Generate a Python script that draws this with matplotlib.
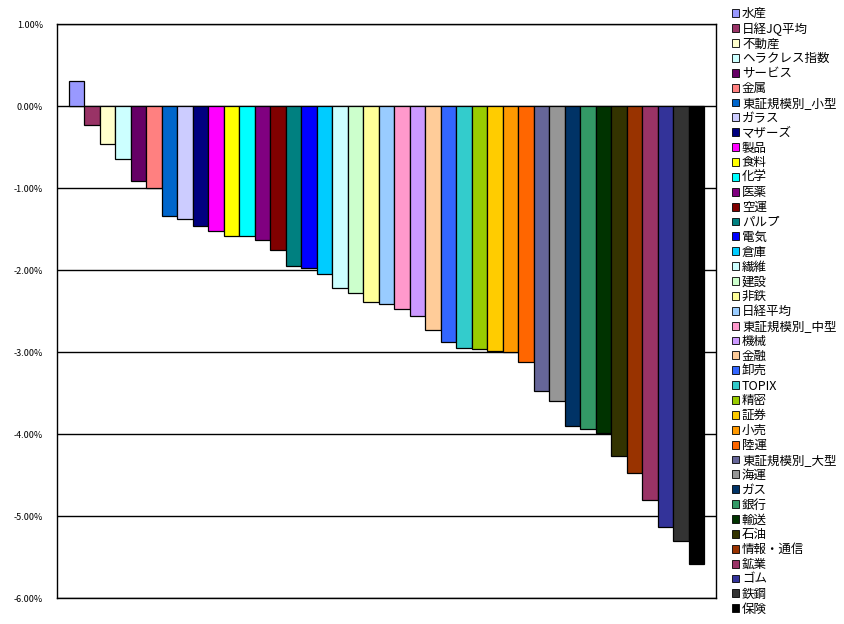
import matplotlib
matplotlib.use("Agg")
import matplotlib.pyplot as plt
from matplotlib.patches import Patch
from matplotlib.ticker import FuncFormatter, MultipleLocator

plt.rcParams["font.family"] = ["Noto Sans CJK JP", "DejaVu Sans"]

# sector / index returns (%)
names = [
    "水産", "日経JQ平均", "不動産", "ヘラクレス指数", "サービス", "金属",
    "東証規模別_小型", "ガラス", "マザーズ", "製品", "食料", "化学", "医薬",
    "空運", "パルプ", "電気", "倉庫", "繊維", "建設", "非鉄", "日経平均",
    "東証規模別_中型", "機械", "金融", "卸売", "TOPIX", "精密", "証券",
    "小売", "陸運", "東証規模別_大型", "海運", "ガス", "銀行", "輸送",
    "石油", "情報・通信", "鉱業", "ゴム", "鉄鋼", "保険",
]
values = [
    0.30, -0.23, -0.46, -0.65, -0.91, -1.00,
    -1.34, -1.38, -1.46, -1.52, -1.58, -1.59, -1.63,
    -1.76, -1.95, -1.98, -2.05, -2.22, -2.28, -2.39, -2.41,
    -2.48, -2.56, -2.73, -2.88, -2.95, -2.96, -2.99,
    -3.00, -3.12, -3.48, -3.60, -3.90, -3.94, -3.99,
    -4.27, -4.48, -4.80, -5.13, -5.30, -5.59,
]
colors = [
    "#9999FF", "#993366", "#FFFFCC", "#CCFFFF", "#660066", "#FF8080",
    "#0066CC", "#CCCCFF", "#000080", "#FF00FF", "#FFFF00", "#00FFFF", "#800080",
    "#800000", "#008080", "#0000FF", "#00CCFF", "#CCFFFF", "#CCFFCC", "#FFFF99", "#99CCFF",
    "#FF99CC", "#CC99FF", "#FFCC99", "#3366FF", "#33CCCC", "#99CC00", "#FFCC00",
    "#FF9900", "#FF6600", "#666699", "#969696", "#003366", "#339966", "#003300",
    "#333300", "#993300", "#993366", "#333399", "#333333", "#000000",
]

fig = plt.figure(figsize=(8.45, 6.24), dpi=100)
ax = fig.add_axes([57 / 845, 26 / 624, 659 / 845, 574 / 624])

x = range(len(values))
ax.bar(x, values, width=1.0, color=colors, edgecolor="black", linewidth=0.9, zorder=3)

ax.set_ylim(-6, 1)
ax.set_xlim(-0.5 - 0.77, len(values) - 0.5 + 0.77)
ax.yaxis.set_major_locator(MultipleLocator(1))
ax.yaxis.set_major_formatter(FuncFormatter(lambda v, _: f"{v:.2f}%"))
ax.grid(axis="y", color="black", linewidth=1.0, zorder=0)
ax.set_xticks([])
ax.tick_params(axis="y", length=0, labelsize=6.5, pad=10)
for s in ax.spines.values():
    s.set_linewidth(1.0)

# legend down the right edge, one row per bar
handles = [Patch(facecolor=c, edgecolor="black", linewidth=0.6) for c in colors]
fig.legend(handles, names, loc="upper left", bbox_to_anchor=(732 / 845, 1 - 7 / 624),
           frameon=False, fontsize=9, handlelength=0.6, handleheight=0.6,
           handletextpad=0.2, labelspacing=0.15, borderaxespad=0, borderpad=0)

fig.savefig("out.png", dpi=100)
